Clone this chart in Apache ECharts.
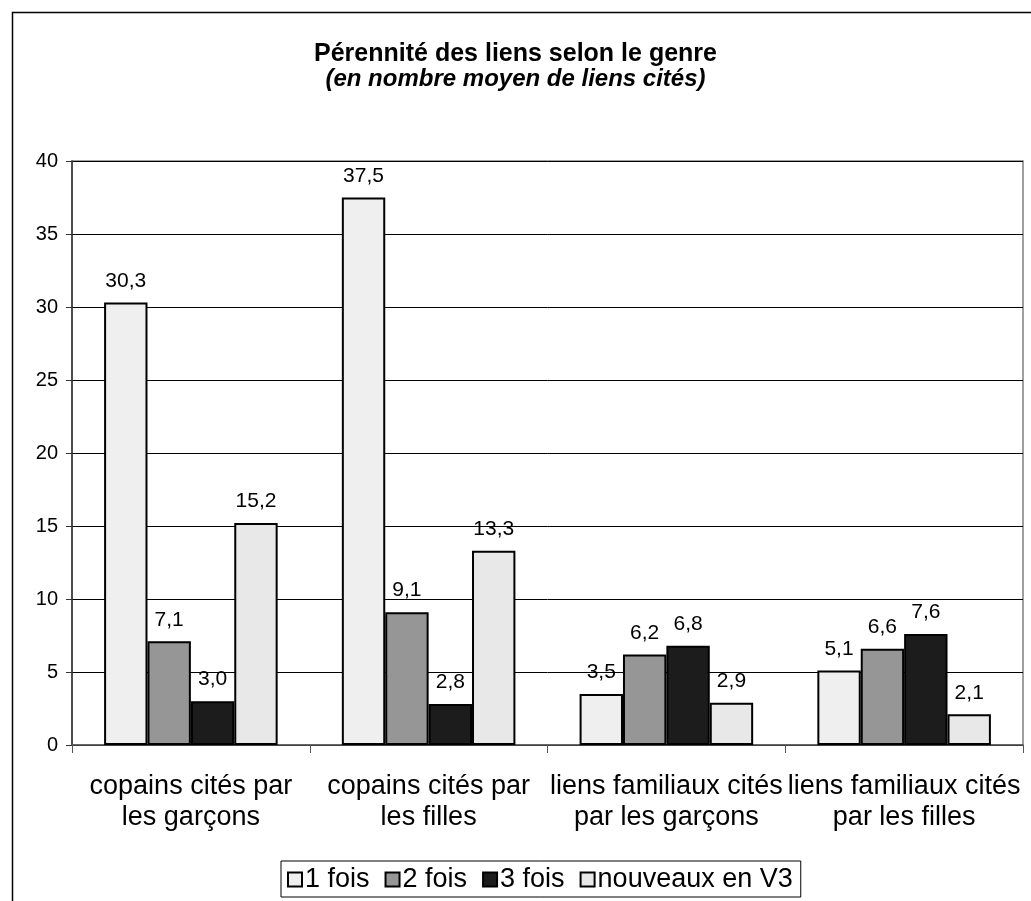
<!DOCTYPE html>
<html>
<head>
<meta charset="utf-8">
<script src="https://cdn.jsdelivr.net/npm/echarts@6/dist/echarts.min.js"></script>
<style>
html,body{margin:0;padding:0;background:#fff;}
#chart{width:1031px;height:901px;}
</style>
</head>
<body>
<div id="chart"></div>
<script>
const categories = ["copains cités par\nles garçons", "copains cités par\nles filles", "liens familiaux cités\npar les garçons", "liens familiaux cités\npar les filles"];
const seriesNames = ["1 fois", "2 fois", "3 fois", "nouveaux en V3"];
const fois1 = [30.3, 37.5, 3.5, 5.1];
const fois2 = [7.1, 9.1, 6.2, 6.6];
const fois3 = [3.0, 2.8, 6.8, 7.6];
const nouveaux = [15.2, 13.3, 2.9, 2.1];
const yTicks = [0, 5, 10, 15, 20, 25, 30, 35, 40];

const colors = ['#efefef', '#969696', '#1c1c1c', '#e8e8e8'];
const allData = [fois1, fois2, fois3, nouveaux];
const FONT = 'Liberation Sans, Arial, sans-serif';

const chart = echarts.init(document.getElementById('chart'), null, {renderer: 'canvas'});
chart.setOption({
  animation: false,
  backgroundColor: '#fff',
  textStyle: {fontFamily: FONT, color: '#000'},
  graphic: [{
    type: 'rect', left: 10, top: 10, z: -10,
    shape: {width: 1100, height: 1000},
    style: {fill: 'none', stroke: '#000', lineWidth: 1.5}
  }],
  title: {
    text: 'Pérennité des liens selon le genre',
    subtext: '(en nombre moyen de liens cités)',
    left: 'center', top: 37, itemGap: 0,
    textStyle: {fontFamily: FONT, fontSize: 25, fontWeight: 'bold', color: '#000'},
    subtextStyle: {fontFamily: FONT, fontSize: 24, fontWeight: 'bold', fontStyle: 'italic', color: '#000'}
  },
  legend: {
    data: seriesNames,
    left: 281, top: 861,
    icon: 'rect', itemWidth: 14, itemHeight: 14, itemGap: 15,
    padding: [5, 8, 4, 6],
    borderColor: '#000', borderWidth: 1,
    textStyle: {fontFamily: FONT, fontSize: 27, color: '#000', padding: [0, 0, 0, -2]}
  },
  grid: {
    left: 72, right: 8, top: 161, bottom: 156,
    show: true, borderColor: '#808080', borderWidth: 1.5, backgroundColor: '#fff'
  },
  xAxis: {
    type: 'category', data: categories,
    axisLine: {lineStyle: {color: '#555', width: 1.5}},
    axisTick: {show: true, length: 8, lineStyle: {color: '#555'}},
    axisLabel: {fontFamily: FONT, fontSize: 27, color: '#000', lineHeight: 31, margin: 26, interval: 0}
  },
  yAxis: {
    type: 'value', min: yTicks[0], max: yTicks[yTicks.length - 1], interval: 5,
    axisLine: {show: true, lineStyle: {color: '#333', width: 1.5}},
    axisTick: {show: true, length: 6, lineStyle: {color: '#333'}},
    axisLabel: {fontFamily: FONT, fontSize: 20, color: '#000', margin: 14},
    splitLine: {lineStyle: {color: '#000', width: 1}}
  },
  series: seriesNames.map((name, i) => ({
    name: name, type: 'bar', data: allData[i],
    barGap: '0%', barCategoryGap: '27%',
    itemStyle: {color: colors[i], borderColor: '#000', borderWidth: 2},
    label: {
      show: true, position: 'top', distance: 11,
      fontFamily: FONT, fontSize: 21, color: '#000',
      formatter: p => p.value.toFixed(1).replace('.', ',')
    }
  }))
});
</script>
</body>
</html>
